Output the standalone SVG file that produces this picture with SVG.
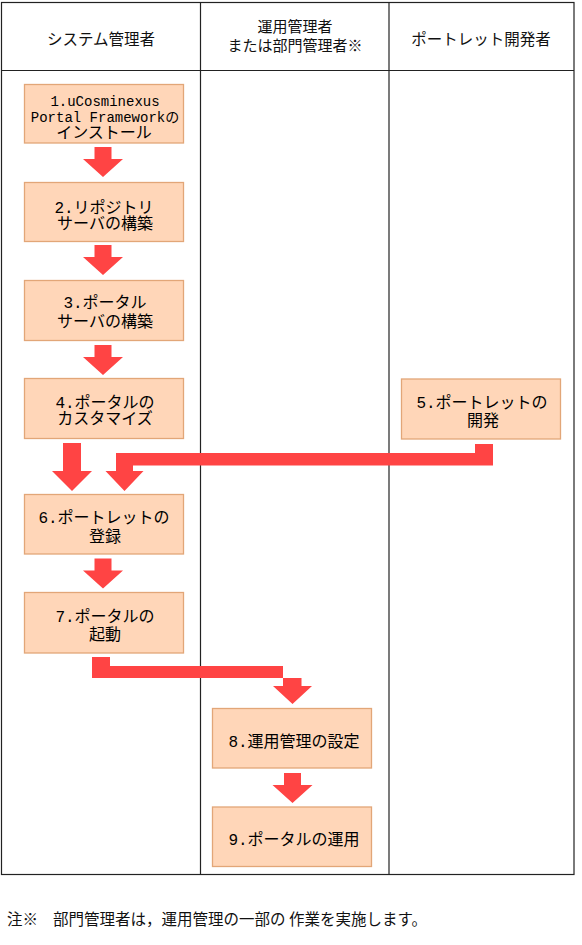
<svg xmlns="http://www.w3.org/2000/svg" xmlns:xlink="http://www.w3.org/1999/xlink" width="582" height="945" viewBox="0 0 582 945">
<style>
.grid{fill:none;stroke:#222;stroke-width:1.2}
.box{fill:#FFD6B8;stroke:#E2A678;stroke-width:1.3}
.arr{fill:#FF4444}
.hd{font-family:"Liberation Sans","Noto Sans CJK JP",sans-serif;font-size:15.5px;fill:#111;text-anchor:middle}
.t{font-family:"Liberation Mono","Noto Sans CJK JP",monospace;font-size:16px;fill:#000;text-anchor:middle}
.sm{font-size:14px}
.ft{font-family:"Noto Sans CJK JP",sans-serif;font-size:15.5px;fill:#111}
</style>
<defs>
<path id="down" d="M-8.5,0 H8.5 V12 H20 L0,30 L-20,12 H-8.5 Z"/>
</defs>
<rect width="582" height="945" fill="#fff"/>
<g id="table">
<rect class="grid" x="1.5" y="2.5" width="572.5" height="872"/>
<line class="grid" x1="200.5" y1="2.5" x2="200.5" y2="874.5"/>
<line class="grid" x1="389" y1="2.5" x2="389" y2="874.5"/>
<line class="grid" x1="1.5" y1="70.5" x2="574" y2="70.5"/>
</g>
<g id="headers">
<text class="hd" x="101" y="45">システム管理者</text>
<text class="hd" x="295" y="32" style="font-size:15px">運用管理者</text>
<text class="hd" x="295" y="50.5" style="font-size:15px">または部門管理者※</text>
<text class="hd" x="481" y="45">ポートレット開発者</text>
</g>
<g id="connectors">
<use xlink:href="#down" href="#down" class="arr" x="103" y="147"/>
<use xlink:href="#down" href="#down" class="arr" x="103" y="245"/>
<use xlink:href="#down" href="#down" class="arr" x="103" y="345"/>
<path class="arr" d="M63,443 H81 V471 H92 L72,491 L52,471 H63 Z"/>
<path class="arr" d="M475,444 H493 V465.5 H133 V471 H143.5 L124.5,491 L105.5,471 H116 V453 H475 Z"/>
<use xlink:href="#down" href="#down" class="arr" x="103" y="558.5"/>
<path class="arr" d="M92,657 H110 V666 H283 V686 H273 L292.5,704 L312,686 H301.5 V678 H92 Z"/>
<use xlink:href="#down" href="#down" class="arr" x="292.5" y="773"/>
</g>
<g id="n1">
<rect class="box" x="24.5" y="84.5" width="159" height="58.5"/>
<text class="t sm" x="105" y="105.5">1.uCosminexus</text>
<text class="t sm" x="105" y="121.5">Portal Frameworkの</text>
<text class="t" x="104" y="138">インストール</text>
</g>
<g id="n2">
<rect class="box" x="24.5" y="182.5" width="159" height="59"/>
<text class="t" x="104" y="212.7">2.リポジトリ</text>
<text class="t" x="105" y="229.3">サーバの構築</text>
</g>
<g id="n3">
<rect class="box" x="24.5" y="280.5" width="159" height="60"/>
<text class="t" x="105" y="308.3">3.ポータル</text>
<text class="t" x="105" y="326.7">サーバの構築</text>
</g>
<g id="n4">
<rect class="box" x="24.5" y="378.5" width="159" height="60"/>
<text class="t" x="105" y="407.7">4.ポータルの</text>
<text class="t" x="105" y="424.3">カスタマイズ</text>
</g>
<g id="n5">
<rect class="box" x="401.5" y="379" width="159" height="60"/>
<text class="t" x="482" y="407.7">5.ポートレットの</text>
<text class="t" x="483" y="426">開発</text>
</g>
<g id="n6">
<rect class="box" x="24.5" y="494.5" width="159" height="59.5"/>
<text class="t" x="104" y="523.3">6.ポートレットの</text>
<text class="t" x="105" y="542">登録</text>
</g>
<g id="n7">
<rect class="box" x="24.5" y="592.5" width="159" height="60.5"/>
<text class="t" x="105" y="622">7.ポータルの</text>
<text class="t" x="105" y="640">起動</text>
</g>
<g id="n8">
<rect class="box" x="212.5" y="708.5" width="159" height="59.5"/>
<text class="t" x="294" y="746.7">8.運用管理の設定</text>
</g>
<g id="n9">
<rect class="box" x="212.5" y="807" width="159" height="59.5"/>
<text class="t" x="294" y="845.3">9.ポータルの運用</text>
</g>
<g id="note">
<text class="ft" x="7" y="925">注※</text>
<text class="ft" x="53" y="925" xml:space="preserve">部門管理者は，運用管理の一部の 作業を実施します。</text>
</g>
</svg>
